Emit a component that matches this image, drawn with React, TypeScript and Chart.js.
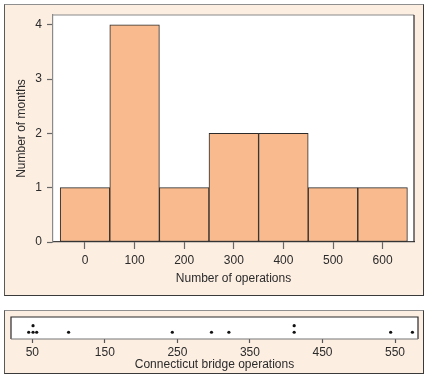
import React, { useEffect, useRef } from "react";
import { Chart, registerables } from "chart.js";

Chart.register(...registerables);

// ---- data ----
const binCenters = [0, 100, 200, 300, 400, 500, 600];
const monthCounts = [1, 4, 1, 2, 2, 1, 1];
const histXTicks = [0, 100, 200, 300, 400, 500, 600];
const histYTicks = [0, 1, 2, 3, 4];
const bridgeOps = [45, 51, 51, 56, 100, 243, 297, 321, 411, 411, 544, 574];
const dotXTicks = [50, 150, 250, 350, 450, 550];

const FONT = "'Liberation Sans', Arial, Helvetica, sans-serif";
const TEXT = "#2b2b2b";
const PANEL_BG = "#fdeee2";
const BAR_FILL = "#f9bb8e";

const histFrame = {
  id: "histFrame",
  beforeDraw(chart: any) {
    const { ctx, chartArea: a } = chart;
    ctx.save();
    ctx.fillStyle = "#ffffff";
    ctx.fillRect(a.left, a.top, a.right - a.left, a.bottom - a.top);
    ctx.restore();
  },
  afterDraw(chart: any) {
    const { ctx, chartArea: a } = chart;
    ctx.save();
    ctx.lineWidth = 1.2;
    ctx.strokeStyle = "#8a8a8a";
    ctx.beginPath();
    ctx.moveTo(a.left, a.top);
    ctx.lineTo(a.right, a.top);
    ctx.stroke();
    ctx.strokeStyle = "#2a2a2a";
    ctx.beginPath();
    ctx.moveTo(a.right, a.top);
    ctx.lineTo(a.right, a.bottom);
    ctx.stroke();
    ctx.restore();
  },
};

const dotFrame = {
  id: "dotFrame",
  beforeDraw(chart: any) {
    const { ctx, chartArea: a } = chart;
    ctx.save();
    ctx.fillStyle = "#ffffff";
    ctx.fillRect(a.left, a.top, a.right - a.left, a.bottom - a.top);
    ctx.restore();
  },
  afterDraw(chart: any) {
    const { ctx, chartArea: a } = chart;
    ctx.save();
    ctx.lineWidth = 1.2;
    ctx.strokeStyle = "#2a2a2a";
    ctx.beginPath();
    ctx.moveTo(a.left, a.bottom);
    ctx.lineTo(a.left, a.top);
    ctx.lineTo(a.right, a.top);
    ctx.lineTo(a.right, a.bottom);
    ctx.stroke();
    ctx.strokeStyle = "#777777";
    ctx.beginPath();
    ctx.moveTo(a.left, a.bottom);
    ctx.lineTo(a.right, a.bottom);
    ctx.stroke();
    ctx.restore();
  },
};

function Histogram() {
  const ref = useRef<HTMLCanvasElement>(null);
  useEffect(() => {
    const chart = new Chart(ref.current!, {
      type: "bar",
      data: {
        datasets: [
          {
            data: binCenters.map((x, i) => ({ x, y: monthCounts[i] })),
            backgroundColor: BAR_FILL,
            borderColor: "#2a2a2a",
            borderWidth: 1,
            borderSkipped: false,
            barPercentage: 1,
            categoryPercentage: 1,
          },
        ],
      },
      options: {
        animation: false,
        responsive: false,
        events: [],
        layout: { padding: { top: 15, right: 15, left: 0, bottom: 0 } },
        plugins: { legend: { display: false }, tooltip: { enabled: false } },
        scales: {
          x: {
            type: "linear",
            offset: false,
            min: -64.5,
            max: 663.3,
            afterBuildTicks: (s: any) => {
              s.ticks = histXTicks.map((v) => ({ value: v }));
            },
            afterFit: (s: any) => {
              s.height = 58;
            },
            grid: {
              offset: false,
              drawOnChartArea: false,
              drawTicks: true,
              tickLength: 7,
              tickColor: "#666",
              tickWidth: 1.2,
            },
            border: { display: true, color: "#444", width: 1.2 },
            ticks: {
              font: { family: FONT, size: 12 },
              color: TEXT,
              padding: 4,
              maxRotation: 0,
              autoSkip: false,
            },
            title: {
              display: true,
              text: "Number of operations",
              font: { family: FONT, size: 12 },
              color: TEXT,
              padding: { top: 0, bottom: 14 },
            },
          },
          y: {
            type: "linear",
            min: 0,
            max: 4.18,
            afterBuildTicks: (s: any) => {
              s.ticks = histYTicks.map((v) => ({ value: v }));
            },
            afterFit: (s: any) => {
              s.width = 53;
            },
            grid: {
              drawOnChartArea: false,
              drawTicks: true,
              tickLength: 6,
              tickColor: "#666",
              tickWidth: 1.2,
            },
            border: { display: true, color: "#8a8a8a", width: 1.2 },
            ticks: {
              font: { family: FONT, size: 12 },
              color: TEXT,
              padding: 5,
            },
            title: {
              display: true,
              text: "Number of months",
              font: { family: FONT, size: 12 },
              color: TEXT,
              padding: { top: 14, bottom: 0 },
            },
          },
        },
      },
      plugins: [histFrame],
    } as any);
    return () => chart.destroy();
  }, []);
  return (
    <canvas
      ref={ref}
      width={429}
      height={300}
      style={{ position: "absolute", left: 0, top: 0, width: 429, height: 300 }}
    />
  );
}

function DotPlot() {
  const ref = useRef<HTMLCanvasElement>(null);
  useEffect(() => {
    const seen: Record<number, number> = {};
    const points = bridgeOps.map((v) => {
      const level = seen[v] || 0;
      seen[v] = level + 1;
      return { x: v, y: level };
    });
    const chart = new Chart(ref.current!, {
      type: "scatter",
      data: {
        datasets: [
          {
            data: points,
            backgroundColor: "#111",
            borderColor: "#111",
            pointRadius: 1.6,
            borderWidth: 0,
          },
        ],
      },
      options: {
        animation: false,
        responsive: false,
        events: [],
        layout: { padding: { top: 17, right: 11, left: 11, bottom: 0 } },
        plugins: { legend: { display: false }, tooltip: { enabled: false } },
        scales: {
          x: {
            type: "linear",
            min: 20.6,
            max: 581.7,
            afterBuildTicks: (s: any) => {
              s.ticks = dotXTicks.map((v) => ({ value: v }));
            },
            afterFit: (s: any) => {
              s.height = 44;
            },
            grid: {
              drawOnChartArea: false,
              drawTicks: true,
              tickLength: 4,
              tickColor: "#555",
              tickWidth: 1.2,
            },
            border: { display: false },
            ticks: {
              font: { family: FONT, size: 12 },
              color: TEXT,
              padding: 2,
              maxRotation: 0,
              autoSkip: false,
            },
            title: {
              display: true,
              text: "Connecticut bridge operations",
              font: { family: FONT, size: 12 },
              color: TEXT,
              padding: { top: 0, bottom: 11 },
            },
          },
          y: {
            type: "linear",
            display: false,
            min: -1.02,
            max: 2.31,
          },
        },
      },
      plugins: [dotFrame],
    } as any);
    return () => chart.destroy();
  }, []);
  return (
    <canvas
      ref={ref}
      width={429}
      height={83}
      style={{ position: "absolute", left: 0, top: 300, width: 429, height: 83 }}
    />
  );
}

export default function App() {
  const panel = (top: number, height: number): React.CSSProperties => ({
    position: "absolute",
    left: 4,
    top,
    width: 420,
    height,
    boxSizing: "border-box",
    background: PANEL_BG,
    borderTop: "1.5px solid #8f8f8f",
    borderLeft: "1.5px solid #5a5a5a",
    borderRight: "1.5px solid #3a3a3a",
    borderBottom: "1.5px solid #3a3a3a",
  });
  return (
    <div
      style={{
        position: "absolute",
        left: 0,
        top: 0,
        width: 429,
        height: 383,
        background: "#ffffff",
        overflow: "hidden",
      }}
    >
      <div style={panel(4, 292)} />
      <div style={panel(310, 64)} />
      <Histogram />
      <DotPlot />
    </div>
  );
}
